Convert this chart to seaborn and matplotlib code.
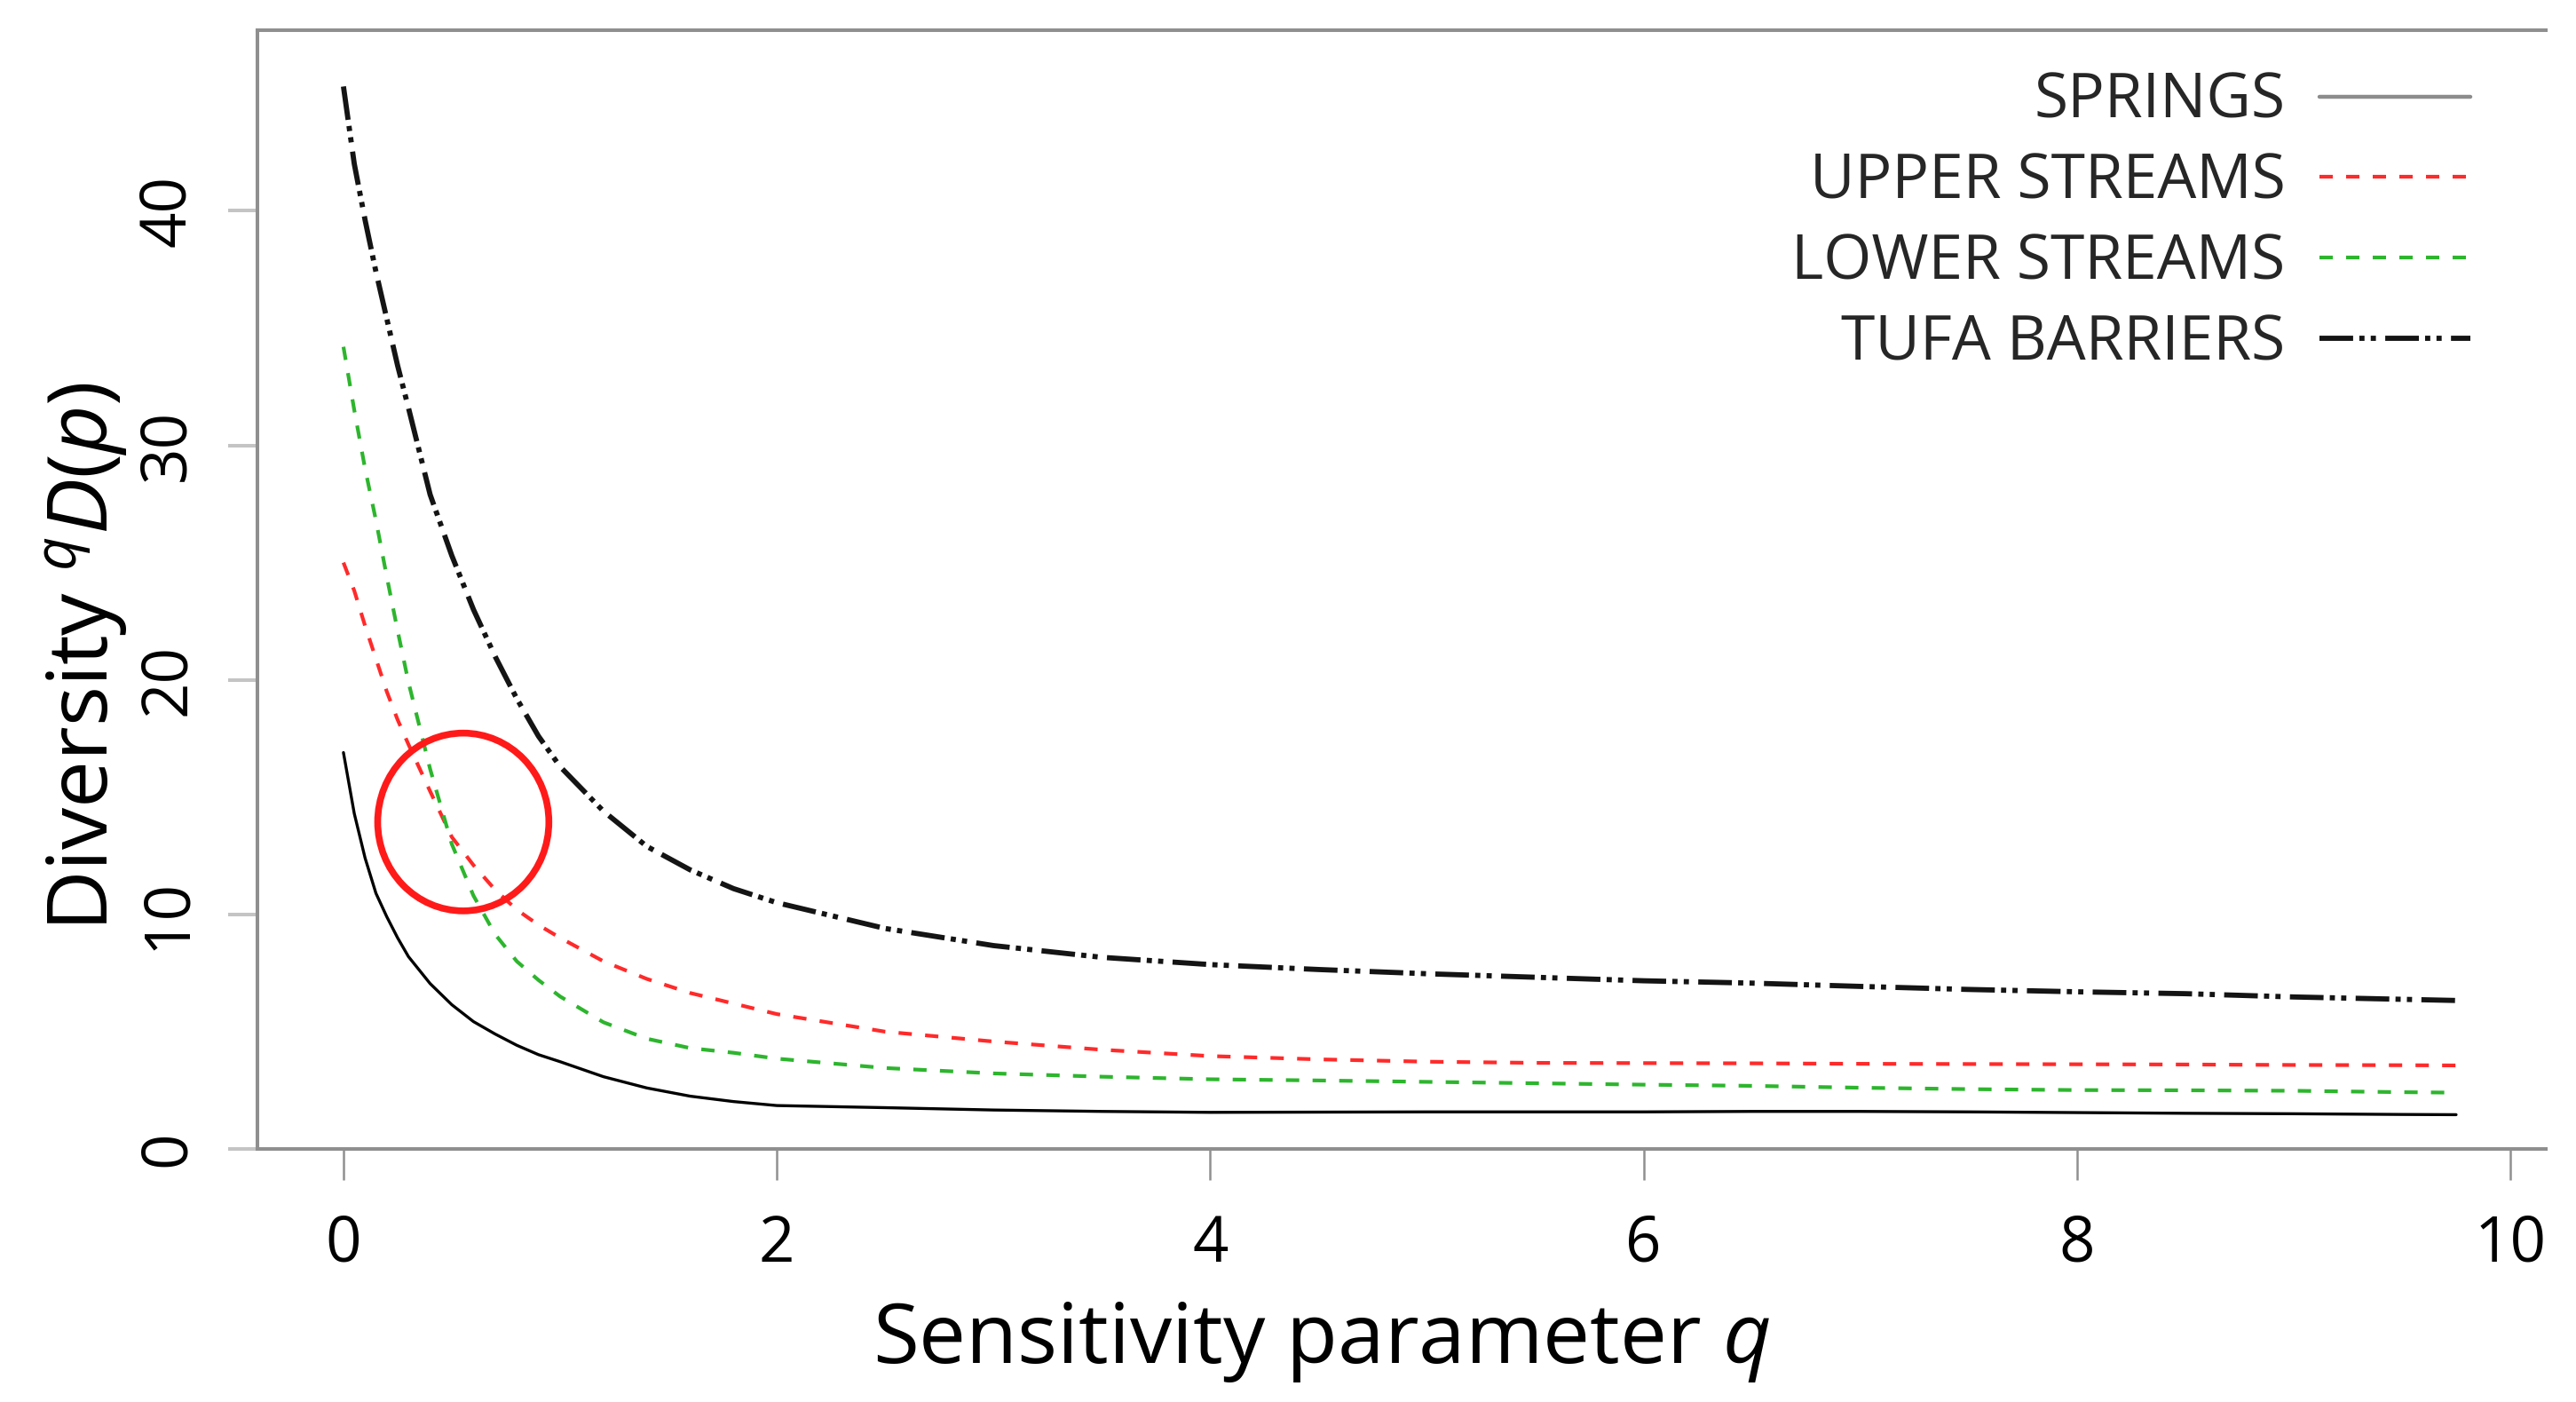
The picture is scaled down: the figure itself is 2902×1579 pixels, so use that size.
import matplotlib
matplotlib.use("Agg")
import matplotlib.pyplot as plt
from matplotlib.patches import Ellipse
import seaborn as sns
import pandas as pd

# ---- data ----
q = [0, 0.05, 0.1, 0.15, 0.2, 0.25, 0.3, 0.4, 0.5, 0.6, 0.7, 0.8, 0.9, 1.0,
     1.2, 1.4, 1.6, 1.8, 2.0, 2.5, 3.0, 3.5, 4.0, 4.5, 5.0, 5.5, 6.0, 6.5,
     7.0, 7.5, 8.0, 8.5, 9.0, 9.5, 9.75]

springs = [16.9, 14.3, 12.4, 10.9, 9.9, 9.0, 8.2, 7.05, 6.15, 5.43, 4.9, 4.42,
           4.02, 3.72, 3.08, 2.6, 2.25, 2.02, 1.85, 1.76, 1.66, 1.6, 1.56, 1.57,
           1.58, 1.58, 1.58, 1.6, 1.6, 1.58, 1.55, 1.52, 1.5, 1.47, 1.46]

upper_streams = [25.0, 23.8, 22.3, 20.9, 19.5, 18.3, 17.25, 15.25, 13.3, 12.1,
                 11.05, 10.2, 9.55, 9.0, 8.0, 7.25, 6.65, 6.2, 5.75, 5.0, 4.58,
                 4.23, 3.96, 3.82, 3.72, 3.67, 3.66, 3.65, 3.63, 3.62, 3.61,
                 3.6, 3.58, 3.57, 3.56]

lower_streams = [34.2, 31.5, 29.0, 26.8, 24.4, 22.1, 19.9, 16.2, 13.0, 10.8,
                 9.15, 8.0, 7.2, 6.5, 5.4, 4.7, 4.3, 4.1, 3.85, 3.45, 3.22,
                 3.08, 2.97, 2.92, 2.86, 2.8, 2.74, 2.69, 2.61, 2.55, 2.51,
                 2.5, 2.48, 2.42, 2.4]

tufa_barriers = [45.3, 42.0, 39.6, 37.4, 35.4, 33.4, 31.6, 27.9, 25.3, 23.0,
                 21.0, 19.2, 17.6, 16.3, 14.4, 12.9, 11.9, 11.1, 10.5, 9.4,
                 8.67, 8.17, 7.86, 7.65, 7.47, 7.32, 7.17, 7.07, 6.93, 6.8,
                 6.7, 6.62, 6.48, 6.38, 6.33]

series_names = ["SPRINGS", "UPPER STREAMS", "LOWER STREAMS", "TUFA BARRIERS"]
x_ticks = [0, 2, 4, 6, 8, 10]
y_ticks = [0, 10, 20, 30, 40]

# ---- style ----
sns.set_style("white")
plt.rcParams["font.family"] = ["Open Sans", "DejaVu Sans"]
plt.rcParams["mathtext.fontset"] = "custom"
plt.rcParams["mathtext.rm"] = "Open Sans"
plt.rcParams["mathtext.it"] = "Open Sans:italic"

fig = plt.figure(figsize=(29.02, 15.79), dpi=100)
ax = fig.add_axes([0.09993, 0.18050, 0.88835, 0.79797])

styles = {
    "SPRINGS": dict(color="black", lw=2.4, linestyle="-"),
    "UPPER STREAMS": dict(color="#ff2a2a", lw=3.0, linestyle=(0, (3.6, 3.6))),
    "LOWER STREAMS": dict(color="#2db52d", lw=3.0, linestyle=(0, (3.6, 3.6))),
    "TUFA BARRIERS": dict(color="#141414", lw=4.2,
                          linestyle=(0, (6.5, 1.2, 1.0, 1.2, 1.0, 1.8))),
}
values = [springs, upper_streams, lower_streams, tufa_barriers]
for name, vals in zip(series_names, values):
    df = pd.DataFrame({"q": q, "D": vals})
    sns.lineplot(data=df, x="q", y="D", ax=ax, label=name, sort=False,
                 estimator=None, **styles[name])

ax.add_patch(Ellipse((0.553, 13.94), width=0.79, height=7.58, fill=False,
                     edgecolor="#ff1a1a", lw=5.5, zorder=5))

ax.set_xlim(-0.397, 10.164)
ax.set_ylim(0, 47.7)
ax.set_xticks(x_ticks)
ax.set_yticks(y_ticks)
ax.set_xticklabels([str(t) for t in x_ticks])
ax.set_yticklabels([str(t) for t in y_ticks])

for side in ["left", "top", "bottom"]:
    ax.spines[side].set_visible(True)
    ax.spines[side].set_color("#8f8f8f")
    ax.spines[side].set_linewidth(2.9)
ax.spines["right"].set_visible(False)

ax.tick_params(axis="x", direction="out", length=25, width=1.8,
               color="#909090", pad=27, labelsize=51, labelcolor="black",
               bottom=True)
ax.tick_params(axis="y", direction="out", length=24, width=2.9,
               color="#c4c4c4", pad=23, labelsize=51, labelcolor="black",
               labelrotation=90, left=True)
for lab in ax.get_yticklabels():
    lab.set_va("center")

ax.set_xlabel(r"Sensitivity parameter $q$", fontsize=68, color="black")
ax.set_ylabel(r"Diversity $^{q}D(p)$", fontsize=68, color="black")
ax.xaxis.set_label_coords(0.465, -0.135)
ax.yaxis.set_label_coords(-0.056, 0.44)
ax.xaxis.label.set_va("top")

leg = ax.legend(loc="upper right", bbox_to_anchor=(0.967, 0.9636),
                frameon=False, fontsize=50, markerfirst=False,
                handlelength=2.45, handletextpad=0.55, labelspacing=0.3,
                borderpad=0, borderaxespad=0)
leg.get_lines()[0].set_color("#8c8c8c")
leg.get_lines()[0].set_linewidth(3.2)

fig.savefig("out.png", dpi=100, facecolor="white")
